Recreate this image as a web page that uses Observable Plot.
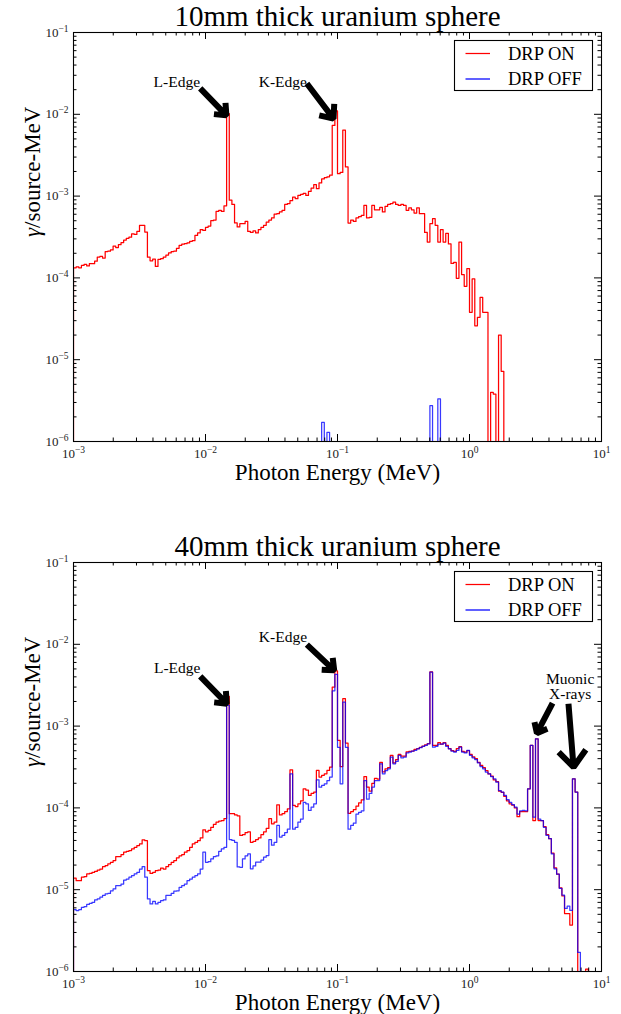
<!DOCTYPE html>
<html>
<head>
<meta charset="utf-8">
<script src="https://cdn.jsdelivr.net/npm/d3@7"></script>
<script src="https://cdn.jsdelivr.net/npm/@observablehq/plot@0.6"></script>
<style>
  html, body { margin: 0; padding: 0; background: #fff; }
  #wrap { position: relative; width: 621px; height: 1014px; overflow: hidden; font-family: "Liberation Serif", serif; }
  .panel { position: absolute; left: 0; }
</style>
</head>
<body>
<div id="wrap"></div>
<script>
// ---------- DATA ----------
// Histogram binning: 50 log bins per decade, starting at 1e-3 MeV, 200 bins
const binsPerDecade = 50;
const firstEdgeExp = -3;
const nBins = 200;

const seriesNames = ["DRP ON", "DRP OFF"];
const seriesColors = ["#ff0000", "#0000ff"];

const titles = ["10mm thick uranium sphere", "40mm thick uranium sphere"];
const xLabel = "Photon Energy (MeV)";
const yLabel = "γ/source-MeV";

const xTickValues = [1e-3, 1e-2, 1e-1, 1, 10];
const xTickLabels = ["10^−3", "10^−2", "10^−1", "10^0", "10^1"];
const yTickValues = [1e-6, 1e-5, 1e-4, 1e-3, 1e-2, 1e-1];
const yTickLabels = ["10^−6", "10^−5", "10^−4", "10^−3", "10^−2", "10^−1"];

// 10 mm sphere, DRP ON (gamma/source-MeV per bin)
const on10 = [
  1.33e-4,1.36e-4,1.33e-4,1.42e-4,1.46e-4,1.40e-4,1.49e-4,1.49e-4,1.60e-4,1.80e-4,
  1.83e-4,1.75e-4,2.10e-4,2.12e-4,2.20e-4,2.45e-4,2.35e-4,2.55e-4,2.70e-4,2.90e-4,
  3.05e-4,3.15e-4,3.45e-4,3.40e-4,3.70e-4,4.38e-4,4.38e-4,3.63e-4,1.79e-4,1.62e-4,
  1.70e-4,1.38e-4,1.68e-4,1.72e-4,1.80e-4,1.90e-4,2.02e-4,2.10e-4,2.12e-4,2.30e-4,
  2.50e-4,2.58e-4,2.62e-4,2.68e-4,2.80e-4,2.85e-4,3.30e-4,3.55e-4,3.90e-4,3.80e-4,
  4.15e-4,4.30e-4,5.00e-4,5.10e-4,6.50e-4,6.70e-4,6.50e-4,7.60e-4,1.02e-2,8.90e-4,
  7.90e-4,4.70e-4,4.20e-4,4.60e-4,4.60e-4,4.90e-4,3.70e-4,3.60e-4,3.75e-4,3.55e-4,
  3.90e-4,4.15e-4,4.40e-4,4.80e-4,5.10e-4,5.40e-4,6.00e-4,6.10e-4,6.40e-4,6.70e-4,
  7.90e-4,8.10e-4,8.80e-4,9.70e-4,9.30e-4,1.02e-3,1.05e-3,1.08e-3,1.02e-3,1.14e-3,
  1.25e-3,1.38e-3,1.23e-3,1.45e-3,1.62e-3,1.68e-3,1.72e-3,1.80e-3,7.30e-3,1.10e-2,
  1.88e-3,1.95e-3,6.40e-3,2.27e-3,4.68e-4,5.10e-4,4.90e-4,5.40e-4,5.60e-4,5.80e-4,
  7.70e-4,5.40e-4,5.50e-4,7.70e-4,6.80e-4,6.80e-4,7.30e-4,6.40e-4,7.50e-4,7.90e-4,
  8.10e-4,8.45e-4,7.90e-4,7.70e-4,7.90e-4,7.70e-4,6.70e-4,7.20e-4,6.80e-4,6.20e-4,
  7.20e-4,6.10e-4,6.10e-4,3.60e-4,2.74e-4,4.60e-4,5.30e-4,4.40e-4,2.74e-4,3.90e-4,
  2.74e-4,3.50e-4,2.60e-4,1.50e-4,1.55e-4,9.90e-5,2.74e-4,1.10e-4,7.90e-5,1.30e-4,
  3.80e-5,9.70e-5,2.60e-5,3.30e-5,5.80e-5,3.80e-5,3.80e-5,0,4.00e-6,3.80e-6,
  0,2.00e-5,7.20e-6,0,0,0,0,0,0,0,
  0,0,0,0,0,0,0,0,0,0,
  0,0,0,0,0,0,0,0,0,0,
  0,0,0,0,0,0,0,0,0,0
];

// 10 mm sphere, DRP OFF
const off10 = [
  0,0,0,0,0,0,0,0,0,0, 0,0,0,0,0,0,0,0,0,0,
  0,0,0,0,0,0,0,0,0,0, 0,0,0,0,0,0,0,0,0,0,
  0,0,0,0,0,0,0,0,0,0, 0,0,0,0,0,0,0,0,0,0,
  0,0,0,0,0,0,0,0,0,0, 0,0,0,0,0,0,0,0,0,0,
  0,0,0,0,0,0,0,0,0,0, 0,0,0,0,1.71e-6,0,1.29e-6,0,0,0,
  0,0,0,0,0,0,0,0,0,0, 0,0,0,0,0,0,0,0,0,0,
  0,0,0,0,0,0,0,0,0,0, 0,0,0,0,0,2.74e-6,0,0,3.31e-6,0,
  0,0,0,0,0,0,0,0,0,0, 0,0,0,0,0,0,0,0,0,0,
  0,0,0,0,0,0,0,0,0,0, 0,0,0,0,0,0,0,0,0,0,
  0,0,0,0,0,0,0,0,0,0, 0,0,0,0,0,0,0,0,0,0
];

// 40 mm sphere, DRP ON
const on40 = [
  1.39e-5,1.29e-5,1.29e-5,1.42e-5,1.45e-5,1.56e-5,1.58e-5,1.63e-5,1.67e-5,1.74e-5,
  1.79e-5,1.91e-5,1.97e-5,2.07e-5,2.16e-5,2.27e-5,2.54e-5,2.54e-5,2.69e-5,2.87e-5,
  2.95e-5,3.01e-5,3.15e-5,3.30e-5,3.46e-5,3.63e-5,4.07e-5,3.98e-5,1.71e-5,1.58e-5,
  1.63e-5,1.71e-5,1.74e-5,1.84e-5,1.79e-5,1.91e-5,2.03e-5,2.16e-5,2.27e-5,2.45e-5,
  2.60e-5,2.69e-5,2.87e-5,3.01e-5,3.30e-5,3.63e-5,3.80e-5,3.98e-5,4.30e-5,5.40e-5,
  5.10e-5,5.30e-5,5.80e-5,6.30e-5,6.70e-5,6.90e-5,7.00e-5,7.40e-5,2.31e-3,8.50e-5,
  8.50e-5,8.20e-5,8.00e-5,4.60e-5,4.70e-5,5.00e-5,5.10e-5,3.80e-5,3.90e-5,4.10e-5,
  4.30e-5,4.70e-5,5.10e-5,5.60e-5,7.40e-5,6.40e-5,6.70e-5,1.09e-4,8.20e-5,8.50e-5,
  9.00e-5,9.70e-5,2.92e-4,1.07e-4,1.04e-4,1.12e-4,1.22e-4,1.71e-4,1.65e-4,1.42e-4,
  1.50e-4,1.56e-4,2.87e-4,2.38e-4,2.50e-4,2.61e-4,2.87e-4,3.16e-4,3.00e-3,4.72e-3,
  6.70e-4,3.20e-4,2.16e-3,6.20e-4,8.60e-5,9.00e-5,9.50e-5,1.05e-4,1.15e-4,1.25e-4,
  2.42e-4,1.80e-4,1.60e-4,2.00e-4,2.30e-4,2.25e-4,3.60e-4,2.75e-4,3.00e-4,3.10e-4,
  4.40e-4,3.55e-4,3.90e-4,4.50e-4,4.30e-4,4.30e-4,4.85e-4,4.90e-4,4.95e-4,5.20e-4,
  5.30e-4,5.50e-4,5.70e-4,5.90e-4,6.10e-4,4.60e-3,5.80e-4,5.80e-4,6.30e-4,6.00e-4,
  6.30e-4,5.80e-4,5.30e-4,5.00e-4,4.90e-4,5.30e-4,5.60e-4,4.90e-4,4.80e-4,5.00e-4,
  4.50e-4,4.20e-4,4.00e-4,3.60e-4,3.30e-4,3.10e-4,2.85e-4,2.60e-4,2.45e-4,2.20e-4,
  2.10e-4,1.60e-4,1.55e-4,1.38e-4,1.22e-4,1.12e-4,1.08e-4,1.00e-4,7.80e-5,9.00e-5,
  9.00e-5,9.00e-5,1.71e-4,5.80e-4,7.00e-5,7.00e-4,7.00e-5,7.00e-5,5.90e-5,4.70e-5,
  4.20e-5,2.80e-5,1.85e-5,1.55e-5,1.05e-5,8.40e-6,5.10e-6,5.10e-6,3.70e-6,2.27e-4,
  1.56e-4,0,0,0,1.07e-6,0,0,0,0,0
];

// 40 mm sphere, DRP OFF
const off40 = [
  5.70e-6,5.55e-6,5.70e-6,6.10e-6,6.20e-6,6.60e-6,6.80e-6,7.00e-6,7.50e-6,7.70e-6,
  8.10e-6,8.50e-6,8.90e-6,9.00e-6,9.70e-6,1.02e-5,1.12e-5,1.12e-5,1.17e-5,1.31e-5,
  1.35e-5,1.42e-5,1.49e-5,1.56e-5,1.63e-5,1.79e-5,1.91e-5,1.42e-5,7.70e-6,6.70e-6,
  7.20e-6,6.70e-6,7.00e-6,7.35e-6,7.50e-6,8.50e-6,8.50e-6,9.00e-6,9.60e-6,9.70e-6,
  1.07e-5,1.12e-5,1.17e-5,1.29e-5,1.35e-5,1.42e-5,1.49e-5,1.56e-5,1.79e-5,2.87e-5,
  2.16e-5,2.20e-5,2.38e-5,2.54e-5,2.60e-5,2.95e-5,3.15e-5,3.30e-5,1.79e-3,4.10e-5,
  4.00e-5,3.80e-5,1.90e-5,1.88e-5,2.38e-5,2.60e-5,2.74e-5,1.80e-5,1.95e-5,2.17e-5,
  2.17e-5,2.30e-5,2.50e-5,2.61e-5,4.10e-5,3.50e-5,3.80e-5,6.10e-5,4.40e-5,4.60e-5,
  5.00e-5,5.50e-5,2.61e-4,5.50e-5,5.80e-5,6.70e-5,7.30e-5,1.17e-4,1.12e-4,9.30e-5,
  1.02e-4,1.12e-4,2.20e-4,1.79e-4,1.88e-4,1.97e-4,2.16e-4,2.38e-4,2.70e-3,4.30e-3,
  5.50e-4,1.97e-4,1.97e-3,5.50e-4,5.50e-5,6.10e-5,6.50e-5,8.40e-5,8.80e-5,9.20e-5,
  2.16e-4,1.28e-4,1.50e-4,1.80e-4,2.16e-4,2.16e-4,3.46e-4,2.61e-4,2.86e-4,3.00e-4,
  4.17e-4,3.46e-4,3.70e-4,4.38e-4,4.10e-4,4.17e-4,4.70e-4,4.81e-4,4.95e-4,5.04e-4,
  5.28e-4,5.45e-4,5.64e-4,5.80e-4,6.08e-4,4.58e-3,5.53e-4,5.65e-4,6.00e-4,6.00e-4,
  6.20e-4,5.65e-4,5.28e-4,4.95e-4,4.81e-4,5.04e-4,5.53e-4,4.81e-4,4.70e-4,5.04e-4,
  4.38e-4,4.10e-4,3.90e-4,3.55e-4,3.20e-4,3.00e-4,2.74e-4,2.61e-4,2.42e-4,2.27e-4,
  2.06e-4,1.63e-4,1.56e-4,1.42e-4,1.26e-4,1.17e-4,1.10e-4,1.02e-4,8.40e-5,9.20e-5,
  9.30e-5,9.20e-5,1.71e-4,5.80e-4,7.70e-5,7.00e-4,7.30e-5,7.00e-5,5.80e-5,4.60e-5,
  4.20e-5,2.74e-5,1.80e-5,1.55e-5,1.04e-5,8.60e-6,5.90e-6,6.30e-6,5.60e-6,2.27e-4,
  1.56e-4,1.71e-6,0,0,0,0,0,0,0,0
];

// Annotations (energy in MeV, value in gamma/source-MeV)
const notes10 = [
  {e: 6.06e-3, v: 2.46e-2, label: "L-Edge"},
  {e: 3.85e-2, v: 2.46e-2, label: "K-Edge"}
];
const arrows10 = [
  {e1: 9.12e-3, v1: 2.07e-2, e2: 1.44e-2, v2: 9.7e-3},
  {e1: 5.86e-2, v1: 2.38e-2, e2: 9.33e-2, v2: 8.86e-3}
];
const notes40 = [
  {e: 6.10e-3, v: 5.08e-3, label: "L-Edge"},
  {e: 3.86e-2, v: 1.23e-2, label: "K-Edge"},
  {e: 5.79, v: 3.06e-3, label: "Muonic\nX-rays"}
];
const arrows40 = [
  {e1: 9.12e-3, v1: 4.06e-3, e2: 1.45e-2, v2: 1.88e-3},
  {e1: 5.86e-2, v1: 9.9e-3, e2: 9.44e-2, v2: 4.8e-3},
  {e1: 4.26, v1: 1.91e-3, e2: 3.24, v2: 8.2e-4},
  {e1: 5.62, v1: 1.88e-3, e2: 6.14, v2: 3.15e-4}
];

// ---------- DRAWING ----------
const FONT = '"Liberation Serif", serif';
const edges = d3.range(nBins + 1).map(i => Math.pow(10, firstEdgeExp + i / binsPerDecade));
const FLOOR = 1e-9; // empty bins drop below the frame (clipped)

function stepData(values) {
  const pts = [{e: edges[0], v: FLOOR}];
  values.forEach((v, i) => pts.push({e: edges[i], v: v > 0 ? v : FLOOR}));
  const last = values[values.length - 1];
  pts.push({e: edges[nBins], v: last > 0 ? last : FLOOR});
  pts.push({e: edges[nBins], v: FLOOR});
  return pts;
}

const xMinor = [];
[1e-3, 1e-2, 1e-1, 1].forEach(d => { for (let k = 2; k <= 9; k++) xMinor.push(d * k); });
const yMinor = [];
[1e-6, 1e-5, 1e-4, 1e-3, 1e-2].forEach(d => { for (let k = 2; k <= 9; k++) yMinor.push(d * k); });

const FW = 528, FH = 409, MT = 32, ML = 73, MR = 20;

function makePanel(cfg) {
  const svg = Plot.plot({
    width: 621,
    height: cfg.height,
    marginLeft: ML, marginRight: MR, marginTop: MT,
    marginBottom: cfg.height - MT - FH,
    style: {fontFamily: FONT, background: "transparent", overflow: "visible", color: "black"},
    x: {type: "log", domain: [1e-3, 10], axis: null},
    y: {type: "log", domain: [1e-6, 1e-1], axis: null},
    marks: [
      Plot.line(stepData(cfg.on), {x: "e", y: "v", curve: "step-after", stroke: seriesColors[0], strokeWidth: 1.25, clip: true}),
      Plot.line(stepData(cfg.off), {x: "e", y: "v", curve: "step-after", stroke: seriesColors[1], strokeWidth: 1.25, strokeOpacity: 0.78, clip: true}),
      Plot.tickX(xTickValues, {x: d => d, insetTop: FH - 7, stroke: "black"}),
      Plot.tickX(xTickValues, {x: d => d, insetBottom: FH - 7, stroke: "black"}),
      Plot.tickX(xMinor, {x: d => d, insetTop: FH - 3.5, stroke: "black"}),
      Plot.tickX(xMinor, {x: d => d, insetBottom: FH - 3.5, stroke: "black"}),
      Plot.tickY(yTickValues, {y: d => d, insetRight: FW - 7, stroke: "black"}),
      Plot.tickY(yTickValues, {y: d => d, insetLeft: FW - 7, stroke: "black"}),
      Plot.tickY(yMinor, {y: d => d, insetRight: FW - 3.5, stroke: "black"}),
      Plot.tickY(yMinor, {y: d => d, insetLeft: FW - 3.5, stroke: "black"}),
      Plot.frame({stroke: "black", strokeWidth: 1.1}),
      Plot.arrow(cfg.arrows, {x1: "e1", y1: "v1", x2: "e2", y2: "v2", stroke: "black", strokeWidth: 6, headLength: 11, headAngle: 80, strokeLinejoin: "miter", strokeLinecap: "butt"}),
      Plot.text(cfg.notes, {x: "e", y: "v", text: "label", fontSize: 15.5, lineHeight: 1.02, fill: "black", fontFamily: FONT}),
      Plot.text(xTickValues, {x: d => d, frameAnchor: "bottom", lineAnchor: "middle", dy: 12, text: (d, i) => xTickLabels[i], fontSize: 13, fill: "#222", fontFamily: FONT}),
      Plot.text(yTickValues, {y: d => d, frameAnchor: "left", lineAnchor: "middle", dx: -5, textAnchor: "end", text: (d, i) => yTickLabels[i], fontSize: 13, fill: "#222", fontFamily: FONT}),
      Plot.text([cfg.title], {frameAnchor: "top", lineAnchor: "middle", dy: -16, text: d => d, fontSize: 29, fill: "black", fontFamily: FONT}),
      Plot.text([xLabel], {frameAnchor: "bottom", lineAnchor: "middle", dy: 31, text: d => d, fontSize: 23, fill: "black", fontFamily: FONT}),
      Plot.text([yLabel], {frameAnchor: "left", lineAnchor: "middle", dx: -41, rotate: -90, text: d => d, fontSize: 23, fill: "black", fontFamily: FONT})
    ]
  });
  d3.select(svg).selectAll("text").each(function () {
    const s = this.textContent;
    if (this.querySelector("tspan")) return;
    const t = d3.select(this);
    if (s.indexOf("^") >= 0) {
      // superscript exponents for tick labels ("10^−3" -> 10 with raised −3)
      const parts = s.split("^");
      t.text(null);
      t.append("tspan").text(parts[0]);
      t.append("tspan").attr("dy", "-5").attr("font-size", "9.5").text(parts[1]);
    } else if (s === yLabel) {
      // italic gamma as in the math-text label
      t.text(null);
      t.append("tspan").attr("font-style", "italic").text(s.slice(0, 1));
      t.append("tspan").text(s.slice(1));
    }
  });
  svg.classList.add("panel");
  svg.style.top = cfg.top + "px";
  return svg;
}

function makeLegend(top) {
  const g = d3.create("svg")
    .attr("width", 142).attr("height", 54)
    .style("position", "absolute").style("left", "453px").style("top", top + "px")
    .attr("font-family", FONT);
  g.append("rect").attr("x", 1.5).attr("y", 1.5).attr("width", 138).attr("height", 50)
    .attr("fill", "white").attr("stroke", "black").attr("stroke-width", 1.1);
  seriesNames.forEach((name, i) => {
    const cy = 14.5 + i * 25.5;
    g.append("line").attr("x1", 12.5).attr("x2", 37).attr("y1", cy).attr("y2", cy)
      .attr("stroke", seriesColors[i]).attr("stroke-width", 1.25);
    g.append("text").attr("x", 55).attr("y", cy + 6).attr("font-size", 18.5)
      .attr("font-family", FONT).attr("fill", "black").text(name);
  });
  return g.node();
}

const wrap = document.getElementById("wrap");
wrap.appendChild(makePanel({title: titles[0], on: on10, off: off10, notes: notes10, arrows: arrows10, height: 530, top: 0}));
wrap.appendChild(makePanel({title: titles[1], on: on40, off: off40, notes: notes40, arrows: arrows40, height: 484, top: 530}));
wrap.appendChild(makeLegend(39));
wrap.appendChild(makeLegend(570));
</script>
</body>
</html>
